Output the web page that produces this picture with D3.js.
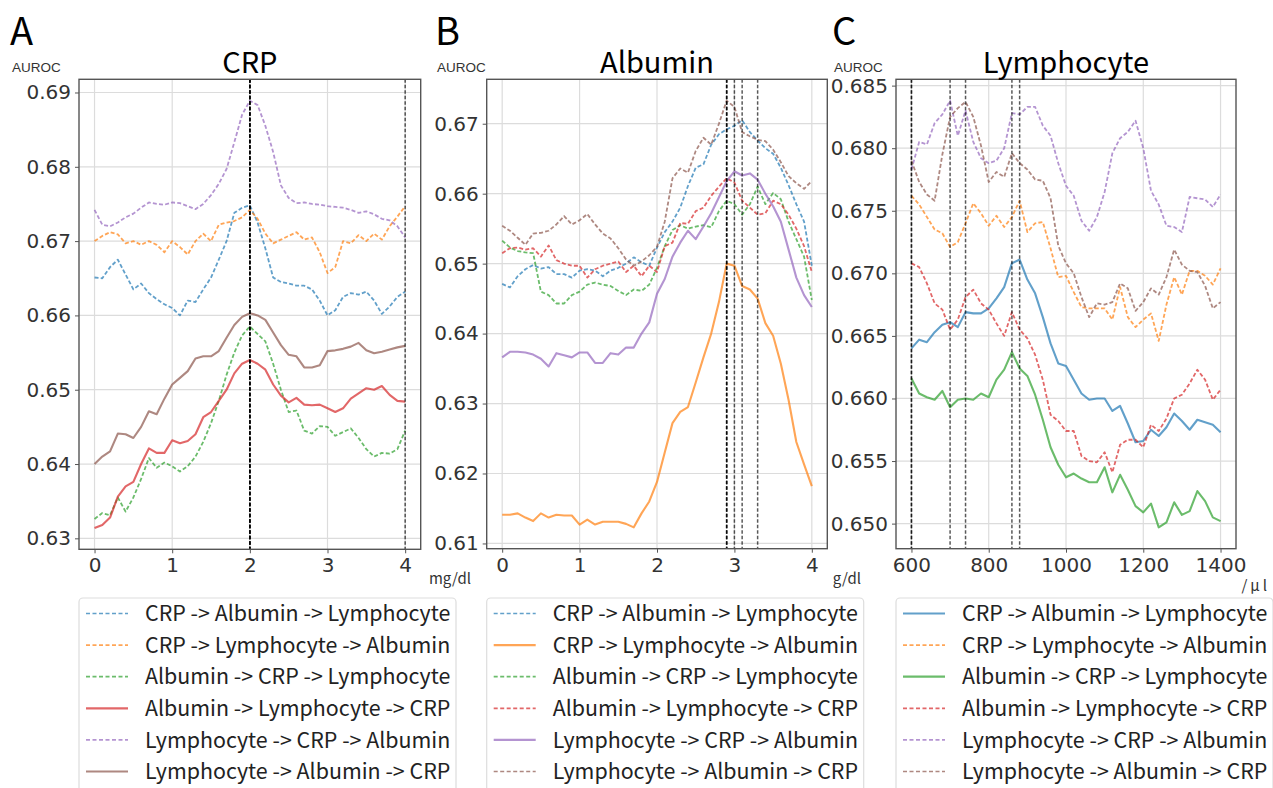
<!DOCTYPE html>
<html>
<head>
<meta charset="utf-8">
<script src="https://cdn.jsdelivr.net/npm/d3@7"></script>
<style>
  body { margin: 0; background: #fff; }
  svg { display: block; }
</style>
</head>
<body>
<script>
// cut-off values (x) for each panel
const xCRP = d3.range(41).map(i => +(i * 0.1).toFixed(1));        // mg/dl
const xAlb = d3.range(41).map(i => +(i * 0.1).toFixed(1));        // g/dl
const xLym = d3.range(41).map(i => 600 + i * 20);                 // /μl

const orderNames = [
  "CRP -> Albumin -> Lymphocyte",
  "CRP -> Lymphocyte -> Albumin",
  "Albumin -> CRP -> Lymphocyte",
  "Albumin -> Lymphocyte -> CRP",
  "Lymphocyte -> CRP -> Albumin",
  "Lymphocyte -> Albumin -> CRP"
];
const orderColors = ["#1f77b4", "#ff7f0e", "#2ca02c", "#d62728", "#9467bd", "#8c564b"];

// panel A : CRP
const crp_CAL = [.6651,.6650,.6665,.6675,.6655,.6635,.6643,.6630,.6622,.6615,
  .6610,.6600,.6620,.6618,.6635,.6651,.6675,.6700,.6738,.6745,
  .6748,.6725,.6690,.6651,.6645,.6643,.6640,.6640,.6635,.6620,
  .6600,.6607,.6625,.6630,.6628,.6632,.6620,.6602,.6612,.6625,.6632];
const crp_CLA = [.6700,.6707,.6712,.6709,.6697,.6700,.6695,.6700,.6695,.6685,
  .6700,.6692,.6682,.6700,.6710,.6700,.6722,.6725,.6727,.6732,
  .6742,.6730,.6710,.6697,.6702,.6707,.6712,.6702,.6705,.6685,
  .6657,.6665,.6700,.6697,.6708,.6700,.6710,.6702,.6720,.6733,.6747];
const crp_ACL = [.6326,.6334,.6331,.6355,.6336,.6355,.6380,.6408,.6395,.6402,
  .6397,.6390,.6397,.6410,.6430,.6455,.6485,.6520,.6550,.6573,
  .6585,.6575,.6565,.6535,.6500,.6470,.6472,.6445,.6441,.6451,
  .6450,.6438,.6443,.6448,.6435,.6420,.6410,.6415,.6414,.6420,.6445];
const crp_ALC = [.6314,.6318,.6328,.6356,.6370,.6376,.6400,.6421,.6415,.6415,
  .6432,.6428,.6431,.6440,.6463,.6470,.6485,.6500,.6522,.6535,
  .6540,.6535,.6527,.6507,.6492,.6483,.6489,.6480,.6479,.6480,
  .6475,.6470,.6475,.6488,.6495,.6502,.6500,.6505,.6493,.6485,.6484];
const crp_LCA = [.6742,.6722,.6720,.6725,.6732,.6737,.6745,.6752,.6750,.6749,
  .6752,.6751,.6747,.6743,.6750,.6762,.6777,.6797,.6833,.6870,
  .6889,.6883,.6855,.6820,.6775,.6758,.6751,.6752,.6750,.6749,
  .6747,.6746,.6745,.6742,.6738,.6740,.6736,.6730,.6728,.6720,.6705];
const crp_LAC = [.6400,.6410,.6417,.6441,.6440,.6435,.6450,.6471,.6467,.6488,
  .6507,.6516,.6525,.6542,.6545,.6545,.6552,.6570,.6587,.6598,
  .6603,.6600,.6594,.6577,.6560,.6547,.6545,.6530,.6530,.6533,
  .6552,.6553,.6555,.6558,.6563,.6553,.6549,.6551,.6554,.6557,.6559];

// panel B : Albumin
const alb_CAL = [.6471,.6466,.6482,.6492,.6498,.6493,.6495,.6485,.6485,.6480,
  .6490,.6492,.6490,.6482,.6490,.6494,.6500,.6509,.6502,.6497,
  .6523,.6545,.6560,.6580,.6611,.6637,.6642,.6670,.6685,.6692,
  .6697,.6705,.6688,.6676,.6665,.6657,.6637,.6612,.6585,.6560,.6497];
const alb_CLA = [.6141,.6141,.6143,.6137,.6132,.6143,.6137,.6141,.6140,.6140,
  .6127,.6134,.6127,.6131,.6131,.6131,.6128,.6123,.6143,.6160,
  .6188,.6230,.6272,.6288,.6295,.6330,.6366,.6400,.6445,.6500,
  .6497,.6468,.6463,.6450,.6415,.6397,.6357,.6305,.6245,.6213,.6182];
const alb_ACL = [.6533,.6523,.6518,.6516,.6515,.6460,.6455,.6443,.6443,.6455,
  .6460,.6470,.6473,.6470,.6468,.6461,.6455,.6463,.6461,.6470,
  .6494,.6525,.6548,.6555,.6550,.6553,.6555,.6552,.6575,.6590,
  .6585,.6570,.6585,.6610,.6585,.6601,.6592,.6560,.6535,.6510,.6448];
const alb_ALC = [.6515,.6522,.6523,.6520,.6522,.6510,.6526,.6505,.6500,.6497,
  .6497,.6480,.6492,.6497,.6500,.6503,.6488,.6497,.6482,.6497,
  .6488,.6525,.6530,.6558,.6557,.6575,.6580,.6597,.6610,.6622,
  .6616,.6590,.6580,.6570,.6572,.6590,.6585,.6570,.6550,.6525,.6488];
const alb_LCA = [.6366,.6374,.6374,.6373,.6370,.6364,.6353,.6372,.6369,.6366,
  .6373,.6373,.6358,.6358,.6372,.6370,.6380,.6380,.6400,.6416,
  .6457,.6478,.6510,.6530,.6547,.6535,.6553,.6572,.6595,.6618,
  .6632,.6626,.6629,.6620,.6600,.6582,.6560,.6520,.6480,.6455,.6438];
const alb_LAC = [.6554,.6547,.6537,.6527,.6543,.6544,.6547,.6556,.6568,.6556,
  .6562,.6571,.6556,.6543,.6536,.6522,.6506,.6497,.6503,.6512,
  .6524,.6560,.6622,.6636,.6630,.6661,.6680,.6670,.6700,.6733,
  .6724,.6688,.6682,.6677,.6675,.6663,.6645,.6625,.6615,.6607,.6618];

// panel C : Lymphocyte
const lym_CAL = [.6640,.6647,.6645,.6653,.6659,.6661,.6657,.6669,.6668,.6668,
  .6672,.6680,.6689,.6708,.6711,.6695,.6684,.6665,.6644,.6628,
  .6626,.6615,.6604,.6599,.6600,.6600,.6590,.6594,.6580,.6565,
  .6566,.6575,.6570,.6577,.6588,.6582,.6575,.6583,.6581,.6579,.6573];
const lym_CLA = [.6762,.6755,.6745,.6735,.6732,.6721,.6725,.6740,.6756,.6748,
  .6738,.6746,.6737,.6745,.6758,.6733,.6740,.6741,.6720,.6697,
  .6698,.6685,.6673,.6672,.6672,.6672,.6663,.6689,.6665,.6657,
  .6663,.6668,.6646,.6675,.6697,.6683,.6702,.6702,.6698,.6691,.6704];
const lym_ACL = [.6616,.6604,.6601,.6599,.6606,.6593,.6599,.6600,.6599,.6604,
  .6601,.6615,.6623,.6637,.6624,.6618,.6603,.6583,.6561,.6547,
  .6537,.6540,.6536,.6533,.6533,.6545,.6525,.6539,.6527,.6514,
  .6509,.6516,.6497,.6501,.6517,.6507,.6510,.6526,.6518,.6505,.6502];
const lym_ALC = [.6708,.6705,.6692,.6676,.6671,.6655,.6663,.6681,.6687,.6676,
  .6671,.6660,.6650,.6669,.6655,.6648,.6635,.6615,.6587,.6582,
  .6574,.6574,.6554,.6550,.6549,.6557,.6541,.6563,.6567,.6567,
  .6561,.6579,.6574,.6584,.6600,.6603,.6612,.6623,.6615,.6599,.6607];
const lym_LCA = [.6783,.6805,.6803,.6820,.6827,.6838,.6810,.6830,.6805,.6792,
  .6788,.6790,.6800,.6828,.6827,.6833,.6833,.6818,.6810,.6788,
  .6770,.6762,.6742,.6734,.6745,.6765,.6796,.6808,.6813,.6822,
  .6800,.6766,.6755,.6738,.6737,.6733,.6761,.6760,.6759,.6753,.6763];
const lym_LAC = [.6790,.6773,.6763,.6758,.6795,.6825,.6832,.6837,.6825,.6802,
  .6773,.6781,.6777,.6796,.6788,.6783,.6775,.6774,.6760,.6722,
  .6708,.6700,.6681,.6665,.6676,.6675,.6677,.6692,.6688,.6670,
  .6677,.6688,.6683,.6697,.6719,.6707,.6702,.6701,.6690,.6672,.6677];

// which series are dashed in each panel
const crpDashed = [true, true, true, false, true, false];
const albDashed = [true, false, true, true, false, true];
const lymDashed = [false, true, false, true, true, true];

const crpXTicks = [0, 1, 2, 3, 4];
const albXTicks = [0, 1, 2, 3, 4];
const lymXTicks = [600, 800, 1000, 1200, 1400];
const crpYTicks = [0.63, 0.64, 0.65, 0.66, 0.67, 0.68, 0.69];
const albYTicks = [0.61, 0.62, 0.63, 0.64, 0.65, 0.66, 0.67];
const lymYTicks = [0.650, 0.655, 0.660, 0.665, 0.670, 0.675, 0.680, 0.685];

const W = 1273, H = 788;
const svg = d3.select("body").append("svg")
  .attr("width", W).attr("height", H);

const tickFont = "DejaVu Sans, sans-serif";
const textFont = "'Noto Sans CJK JP', 'Noto Sans', sans-serif";

function drawPanel(p) {
  const g = svg.append("g");
  const all = p.series.flat();
  const lo = d3.min(all), hi = d3.max(all);
  const pad = (hi - lo) * 0.05;
  const xPad = (d3.max(p.x) - d3.min(p.x)) * 0.05;

  const x = d3.scaleLinear()
    .domain([d3.min(p.x) - xPad, d3.max(p.x) + xPad])
    .range([p.left, p.right]);
  const y = d3.scaleLinear()
    .domain([lo - pad, hi + pad])
    .range([p.bottom, p.top]);

  // grid
  g.append("g").selectAll("line").data(p.xTicks).join("line")
    .attr("x1", d => x(d)).attr("x2", d => x(d))
    .attr("y1", p.top).attr("y2", p.bottom)
    .attr("stroke", "#dcdcdc").attr("stroke-width", 1.2);
  g.append("g").selectAll("line").data(p.yTicks).join("line")
    .attr("x1", p.left).attr("x2", p.right)
    .attr("y1", d => y(d)).attr("y2", d => y(d))
    .attr("stroke", "#dcdcdc").attr("stroke-width", 1.2);

  // axes
  const xAxis = g.append("g")
    .attr("transform", `translate(0,${p.bottom})`)
    .call(d3.axisBottom(x).tickValues(p.xTicks).tickSize(4).tickPadding(5).tickFormat(p.xFormat));
  const yAxis = g.append("g")
    .attr("transform", `translate(${p.left},0)`)
    .call(d3.axisLeft(y).tickValues(p.yTicks).tickSize(4).tickPadding(4).tickFormat(d3.format(p.yFormat)));
  [xAxis, yAxis].forEach(a => {
    a.select(".domain").remove();
    a.selectAll(".tick line").attr("stroke", "#555");
    a.selectAll(".tick text")
      .attr("fill", "#333")
      .style("font-family", tickFont)
      .style("font-size", "20px");
  });

  // series
  const line = d3.line().x((d, i) => x(p.x[i])).y(d => y(d));
  p.series.forEach((s, k) => {
    g.append("path")
      .datum(s)
      .attr("d", line)
      .attr("fill", "none")
      .attr("stroke", orderColors[k])
      .attr("stroke-opacity", 0.7)
      .attr("stroke-width", p.dashed[k] ? 1.8 : 2.1)
      .attr("stroke-dasharray", p.dashed[k] ? "4,2.2" : null)
      .attr("stroke-linejoin", "round");
  });

  // vertical markers at each order's best cut-off
  p.series.forEach(s => {
    const xm = p.x[d3.maxIndex(s)];
    g.append("line")
      .attr("x1", x(xm)).attr("x2", x(xm))
      .attr("y1", p.top).attr("y2", p.bottom)
      .attr("stroke", "#000")
      .attr("stroke-opacity", 0.65)
      .attr("stroke-width", 1.5)
      .attr("stroke-dasharray", "3.5,2");
  });

  // frame
  g.append("rect")
    .attr("x", p.left).attr("y", p.top)
    .attr("width", p.right - p.left).attr("height", p.bottom - p.top)
    .attr("fill", "none").attr("stroke", "#555").attr("stroke-width", 1.4);

  // texts
  g.append("text")
    .attr("x", p.letterX).attr("y", 45)
    .style("font-family", textFont).style("font-size", "38px")
    .text(p.letter);
  g.append("text")
    .attr("x", (p.left + p.right) / 2).attr("y", 73)
    .attr("text-anchor", "middle")
    .style("font-family", textFont).style("font-size", "29px")
    .text(p.title);
  g.append("text")
    .attr("x", p.letterX + 2).attr("y", 72)
    .attr("fill", "#333")
    .style("font-family", "'Liberation Sans', Arial, sans-serif").style("font-size", "13.5px")
    .text("AUROC");
  g.append("text")
    .attr("x", p.unitX).attr("y", p.unitY || 584)
    .attr("text-anchor", "end")
    .attr("fill", "#333")
    .attr("letter-spacing", p.unitSpacing || 0)
    .style("font-family", textFont).style("font-size", "15px")
    .text(p.unit);

  // legend
  const lg = g.append("g");
  lg.append("rect")
    .attr("x", p.left).attr("y", 598)
    .attr("width", 377).attr("height", 210)
    .attr("rx", 4)
    .attr("fill", "#fff").attr("stroke", "#dddddd").attr("stroke-width", 1.2);
  orderNames.forEach((name, k) => {
    const cy = 613.5 + k * 31.6;
    lg.append("line")
      .attr("x1", p.left + 7).attr("x2", p.left + 49)
      .attr("y1", cy).attr("y2", cy)
      .attr("stroke", orderColors[k])
      .attr("stroke-opacity", 0.7)
      .attr("stroke-width", p.dashed[k] ? 1.7 : 2.2)
      .attr("stroke-dasharray", p.dashed[k] ? "4,2.5" : null);
    lg.append("text")
      .attr("x", p.left + 66).attr("y", cy)
      .attr("dy", "0.36em")
      .attr("fill", "#222")
      .style("font-family", textFont).style("font-size", "21.4px")
      .text(name);
  });
}

drawPanel({
  letter: "A", letterX: 10, title: "CRP", unit: "mg/dl", unitX: 471,
  left: 79, right: 420.7, top: 79.3, bottom: 549.3,
  x: xCRP, series: [crp_CAL, crp_CLA, crp_ACL, crp_ALC, crp_LCA, crp_LAC],
  dashed: crpDashed, xTicks: crpXTicks, yTicks: crpYTicks,
  xFormat: d3.format("d"), yFormat: ".2f"
});
drawPanel({
  letter: "B", letterX: 435, title: "Albumin", unit: "g/dl", unitX: 861,
  left: 486.7, right: 827.3, top: 79.3, bottom: 548.7,
  x: xAlb, series: [alb_CAL, alb_CLA, alb_ACL, alb_ALC, alb_LCA, alb_LAC],
  dashed: albDashed, xTicks: albXTicks, yTicks: albYTicks,
  xFormat: d3.format("d"), yFormat: ".2f"
});
drawPanel({
  letter: "C", letterX: 832, title: "Lymphocyte", unit: "/μl", unitX: 1270, unitY: 591, unitSpacing: 3,
  left: 896, right: 1236, top: 79.3, bottom: 548.7,
  x: xLym, series: [lym_CAL, lym_CLA, lym_ACL, lym_ALC, lym_LCA, lym_LAC],
  dashed: lymDashed, xTicks: lymXTicks, yTicks: lymYTicks,
  xFormat: d3.format("d"), yFormat: ".3f"
});
</script>
</body>
</html>
